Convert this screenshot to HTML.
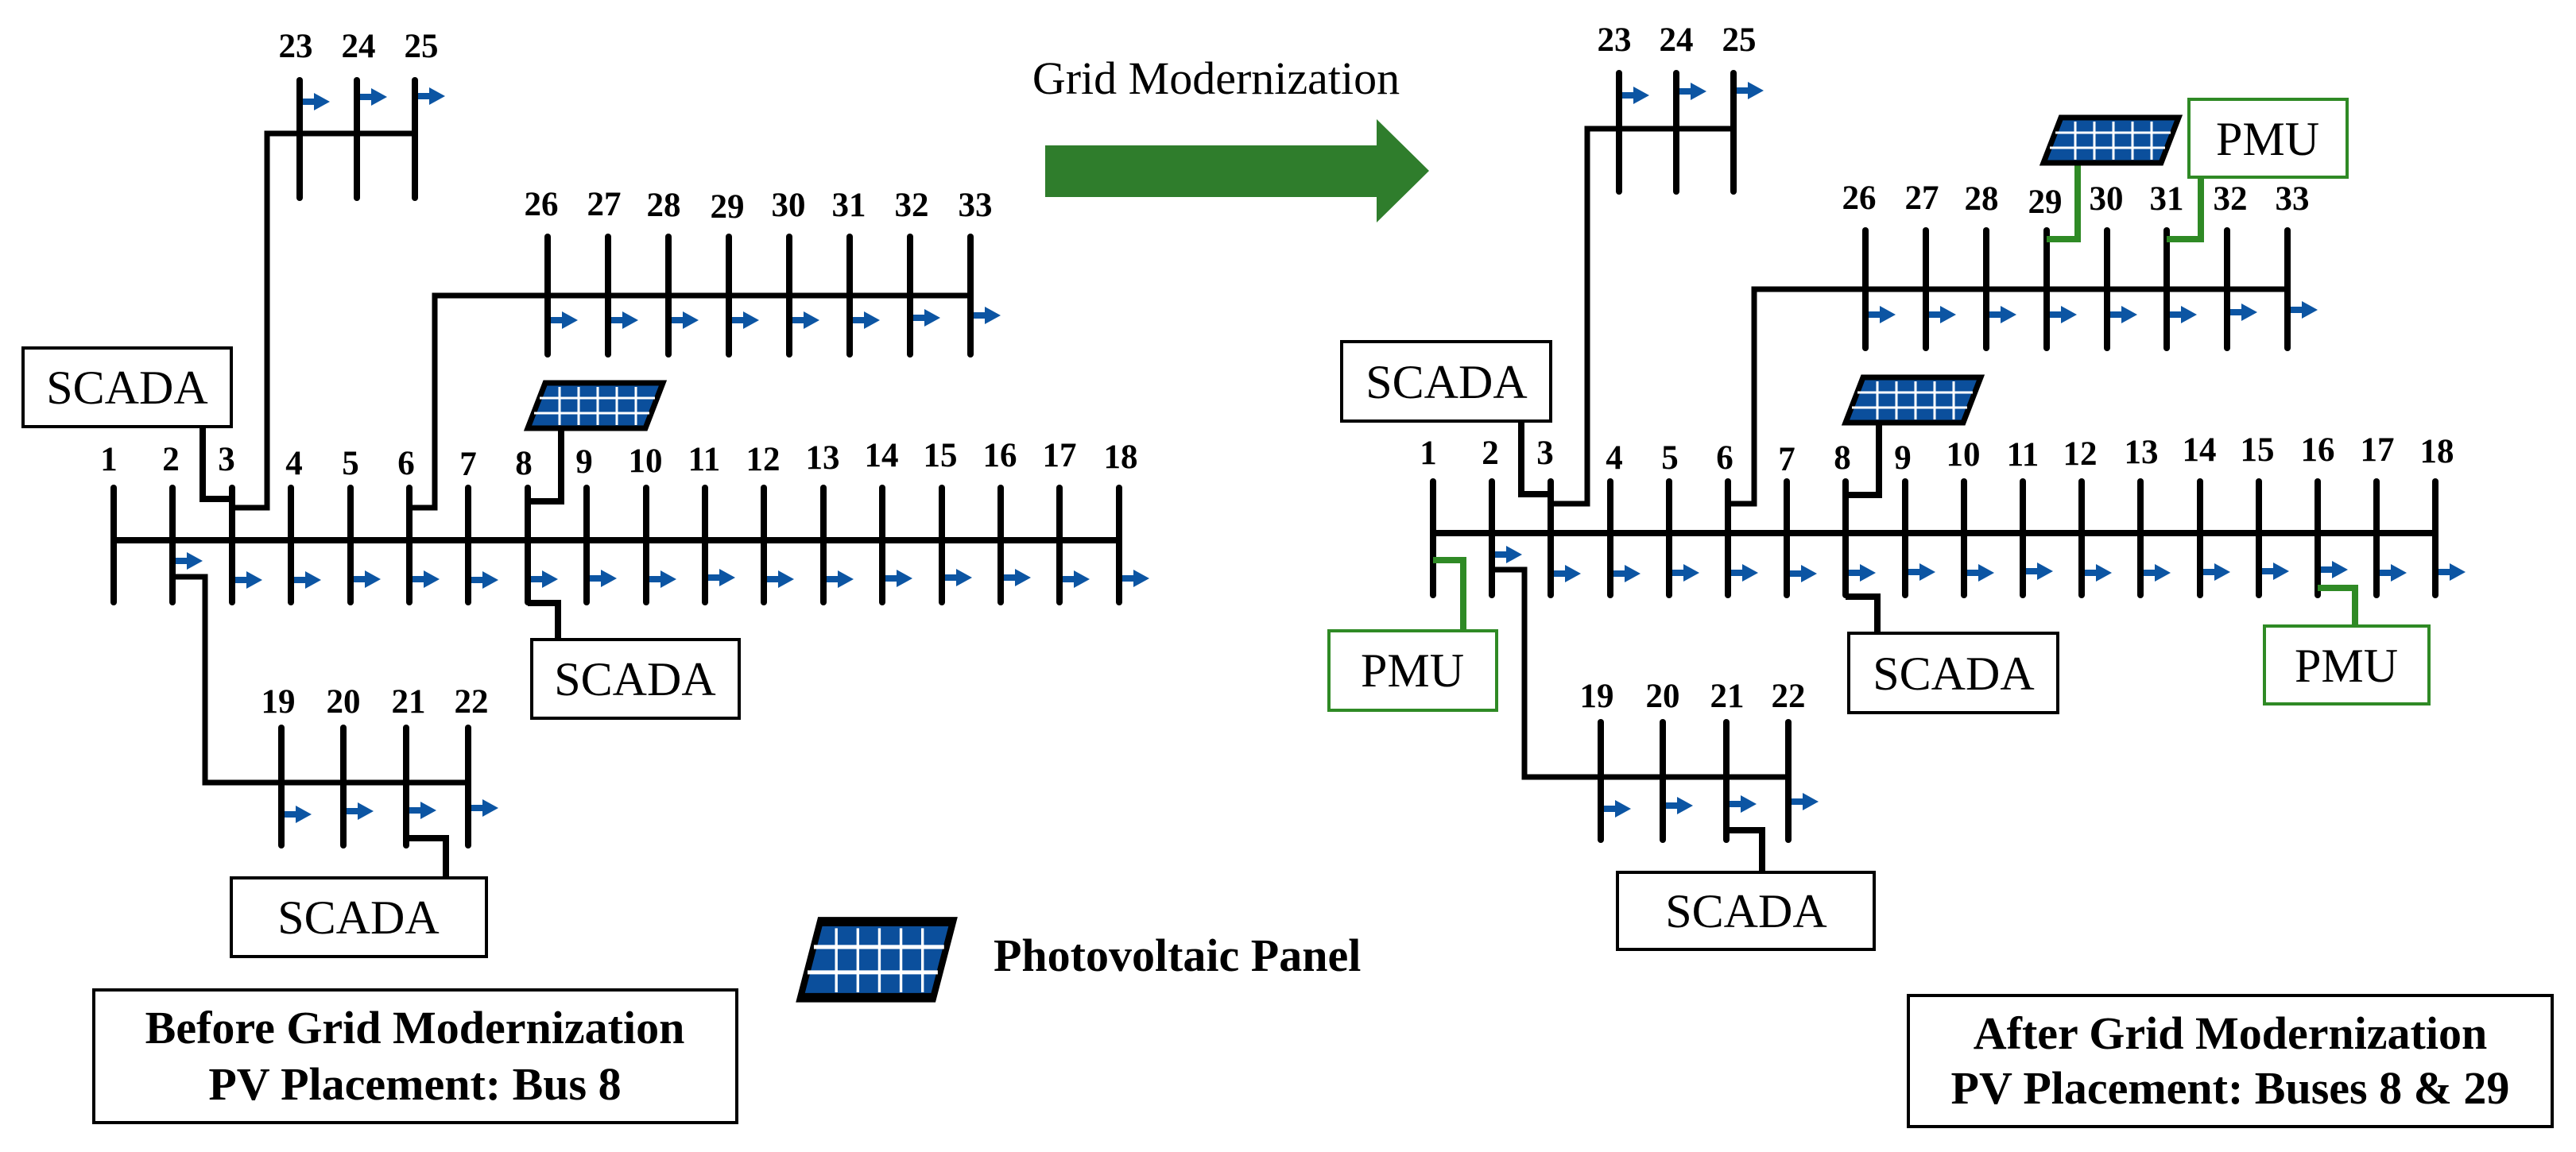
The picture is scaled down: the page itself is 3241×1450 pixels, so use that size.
<!DOCTYPE html>
<html><head><meta charset="utf-8"><style>
html,body{margin:0;padding:0;background:#fff}
svg{display:block}
.lb{font-family:"Liberation Serif",serif;font-weight:bold;font-size:43px;text-anchor:middle}
.bx{font-family:"Liberation Serif",serif;font-size:60px;text-anchor:middle}
.tt{font-family:"Liberation Serif",serif;font-weight:bold;font-size:58px;text-anchor:middle}
</style></head><body>
<svg width="3241" height="1450" viewBox="0 0 3241 1450" xmlns="http://www.w3.org/2000/svg">
<defs>
<g id="ar"><rect x="0" y="-4" width="20" height="8" fill="#0c55a3"/><polygon points="14,-11 34,0 14,11" fill="#0c55a3"/></g>
<g id="pv">
<polygon points="22,0 170,0 148,57 0,57" fill="#0b4f9c" stroke="#000" stroke-width="7" stroke-linejoin="miter"/>
<g stroke="#fff" stroke-width="3">
<line x1="15" y1="19" x2="160" y2="19"/><line x1="8" y1="38" x2="153" y2="38"/>
<line x1="40" y1="5" x2="40" y2="53"/><line x1="64" y1="5" x2="64" y2="53"/><line x1="88" y1="5" x2="88" y2="53"/><line x1="112" y1="5" x2="112" y2="53"/><line x1="136" y1="5" x2="136" y2="53"/>
</g></g>
</defs>

<!-- ================= LEFT ================= -->
<g stroke="#000" stroke-width="8" fill="none" stroke-linecap="round">
<line x1="143" y1="680" x2="1408" y2="680" stroke-linecap="butt"/>
<line x1="143" y1="614" x2="143" y2="758"/><line x1="217" y1="614" x2="217" y2="758"/><line x1="292" y1="614" x2="292" y2="758"/><line x1="366" y1="614" x2="366" y2="758"/><line x1="441" y1="614" x2="441" y2="758"/><line x1="515" y1="614" x2="515" y2="758"/><line x1="589" y1="614" x2="589" y2="758"/><line x1="664" y1="614" x2="664" y2="758"/><line x1="738" y1="614" x2="738" y2="758"/><line x1="813" y1="614" x2="813" y2="758"/><line x1="887" y1="614" x2="887" y2="758"/><line x1="961" y1="614" x2="961" y2="758"/><line x1="1036" y1="614" x2="1036" y2="758"/><line x1="1110" y1="614" x2="1110" y2="758"/><line x1="1185" y1="614" x2="1185" y2="758"/><line x1="1259" y1="614" x2="1259" y2="758"/><line x1="1333" y1="614" x2="1333" y2="758"/><line x1="1408" y1="614" x2="1408" y2="758"/>
<polyline points="217,726 258,726 258,985 589,985" stroke-linecap="butt" stroke-width="7"/>
<line x1="354" y1="916" x2="354" y2="1064"/><line x1="432" y1="916" x2="432" y2="1064"/><line x1="511" y1="916" x2="511" y2="1064"/><line x1="589" y1="916" x2="589" y2="1064"/>
<polyline points="511,1055 561,1055 561,1105" stroke-linecap="butt"/>
<polyline points="292,639 336,639 336,168 522,168" stroke-linecap="butt" stroke-width="7"/>
<line x1="377" y1="101" x2="377" y2="249"/><line x1="449" y1="101" x2="449" y2="249"/><line x1="522" y1="101" x2="522" y2="249"/>
<polyline points="255,537 255,628 292,628" stroke-linecap="butt"/>
<polyline points="515,639 547,639 547,372 1221,372" stroke-linecap="butt" stroke-width="7"/>
<line x1="689" y1="298" x2="689" y2="446"/><line x1="765" y1="298" x2="765" y2="446"/><line x1="841" y1="298" x2="841" y2="446"/><line x1="917" y1="298" x2="917" y2="446"/><line x1="993" y1="298" x2="993" y2="446"/><line x1="1069" y1="298" x2="1069" y2="446"/><line x1="1145" y1="298" x2="1145" y2="446"/><line x1="1221" y1="298" x2="1221" y2="446"/>
<polyline points="706,537 706,631 664,631" stroke-linecap="butt"/>
<polyline points="664,759 702,759 702,805" stroke-linecap="butt"/>
</g>
<g>
<use href="#ar" x="221" y="706"/><use href="#ar" x="296" y="730"/><use href="#ar" x="370" y="730"/><use href="#ar" x="445" y="729"/><use href="#ar" x="519" y="729"/><use href="#ar" x="593" y="730"/><use href="#ar" x="668" y="729"/><use href="#ar" x="742" y="728"/><use href="#ar" x="817" y="729"/><use href="#ar" x="891" y="727"/><use href="#ar" x="965" y="729"/><use href="#ar" x="1040" y="729"/><use href="#ar" x="1114" y="728"/><use href="#ar" x="1189" y="727"/><use href="#ar" x="1263" y="727"/><use href="#ar" x="1337" y="729"/><use href="#ar" x="1412" y="728"/>
<use href="#ar" x="358" y="1025"/><use href="#ar" x="436" y="1021"/><use href="#ar" x="515" y="1020"/><use href="#ar" x="593" y="1017"/>
<use href="#ar" x="381" y="128"/><use href="#ar" x="453" y="122"/><use href="#ar" x="526" y="121"/>
<use href="#ar" x="693" y="403"/><use href="#ar" x="769" y="403"/><use href="#ar" x="845" y="403"/><use href="#ar" x="921" y="403"/><use href="#ar" x="997" y="403"/><use href="#ar" x="1073" y="403"/><use href="#ar" x="1149" y="400"/><use href="#ar" x="1225" y="397"/>
</g>
<g class="lb">
<text x="137" y="592">1</text><text x="215" y="592">2</text><text x="285" y="592">3</text><text x="370" y="597">4</text><text x="441" y="597">5</text><text x="511" y="597">6</text><text x="589" y="598">7</text><text x="659" y="597">8</text><text x="735" y="595">9</text><text x="812" y="594">10</text><text x="886" y="592">11</text><text x="960" y="592">12</text><text x="1035" y="590">13</text><text x="1109" y="587">14</text><text x="1183" y="587">15</text><text x="1258" y="587">16</text><text x="1333" y="587">17</text><text x="1410" y="589">18</text>
<text x="350" y="897">19</text><text x="432" y="897">20</text><text x="514" y="897">21</text><text x="593" y="897">22</text>
<text x="372" y="72">23</text><text x="451" y="72">24</text><text x="530" y="72">25</text>
<text x="681" y="271">26</text><text x="760" y="271">27</text><text x="835" y="272">28</text><text x="915" y="274">29</text><text x="992" y="272">30</text><text x="1068" y="272">31</text><text x="1147" y="272">32</text><text x="1227" y="272">33</text>
</g>
<use href="#pv" transform="translate(664,482)"/>
<g fill="#fff" stroke="#000" stroke-width="4">
<rect x="29" y="438" width="262" height="99"/>
<rect x="669" y="805" width="261" height="99"/>
<rect x="291" y="1105" width="321" height="99"/>
<rect x="118" y="1246" width="809" height="167"/>
</g>
<g class="bx">
<text x="160" y="508">SCADA</text><text x="799" y="875">SCADA</text><text x="451" y="1175">SCADA</text>
</g>
<g class="tt"><text x="522" y="1313">Before Grid Modernization</text><text x="522" y="1384">PV Placement: Bus 8</text></g>

<use href="#pv" transform="translate(1007,1160) scale(1.13,1.68)"/>
<text x="1250" y="1222" font-family="Liberation Serif,serif" font-weight="bold" font-size="58">Photovoltaic Panel</text>
<text x="1530" y="118" class="bx" style="font-size:58px">Grid Modernization</text>
<polygon points="1315,183 1732,183 1732,150 1798,215 1732,280 1732,248 1315,248" fill="#2f7d2c"/>

<!-- ================= RIGHT ================= -->
<g stroke="#000" stroke-width="8" fill="none" stroke-linecap="round">
<line x1="1803" y1="671" x2="3064" y2="671" stroke-linecap="butt"/>
<line x1="1803" y1="606" x2="1803" y2="749"/><line x1="1877" y1="606" x2="1877" y2="749"/><line x1="1951" y1="606" x2="1951" y2="749"/><line x1="2026" y1="606" x2="2026" y2="749"/><line x1="2100" y1="606" x2="2100" y2="749"/><line x1="2174" y1="606" x2="2174" y2="749"/><line x1="2248" y1="606" x2="2248" y2="749"/><line x1="2322" y1="606" x2="2322" y2="749"/><line x1="2397" y1="606" x2="2397" y2="749"/><line x1="2471" y1="606" x2="2471" y2="749"/><line x1="2545" y1="606" x2="2545" y2="749"/><line x1="2619" y1="606" x2="2619" y2="749"/><line x1="2693" y1="606" x2="2693" y2="749"/><line x1="2768" y1="606" x2="2768" y2="749"/><line x1="2842" y1="606" x2="2842" y2="749"/><line x1="2916" y1="606" x2="2916" y2="749"/><line x1="2990" y1="606" x2="2990" y2="749"/><line x1="3064" y1="606" x2="3064" y2="749"/>
<polyline points="1877,717 1918,717 1918,978 2250,978" stroke-linecap="butt" stroke-width="7"/>
<line x1="2014" y1="909" x2="2014" y2="1057"/><line x1="2092" y1="909" x2="2092" y2="1057"/><line x1="2172" y1="909" x2="2172" y2="1057"/><line x1="2250" y1="909" x2="2250" y2="1057"/>
<polyline points="2172,1045 2217,1045 2217,1098" stroke-linecap="butt"/>
<polyline points="1951,634 1997,634 1997,162 2181,162" stroke-linecap="butt" stroke-width="7"/>
<line x1="2037" y1="92" x2="2037" y2="241"/><line x1="2109" y1="92" x2="2109" y2="241"/><line x1="2181" y1="92" x2="2181" y2="241"/>
<polyline points="1914,530 1914,622 1951,622" stroke-linecap="butt"/>
<polyline points="2174,634 2207,634 2207,364 2878,364" stroke-linecap="butt" stroke-width="7"/>
<line x1="2347" y1="290" x2="2347" y2="438"/><line x1="2423" y1="290" x2="2423" y2="438"/><line x1="2499" y1="290" x2="2499" y2="438"/><line x1="2575" y1="290" x2="2575" y2="438"/><line x1="2651" y1="290" x2="2651" y2="438"/><line x1="2726" y1="290" x2="2726" y2="438"/><line x1="2802" y1="290" x2="2802" y2="438"/><line x1="2878" y1="290" x2="2878" y2="438"/>
<polyline points="2364,532 2364,623 2322,623" stroke-linecap="butt"/>
<polyline points="2322,751 2362,751 2362,797" stroke-linecap="butt"/>
</g>
<g stroke="#2f8a25" stroke-width="8" fill="none">
<polyline points="1803,705 1841,705 1841,794"/>
<polyline points="2614,205 2614,301 2575,301"/>
<polyline points="2769,223 2769,301 2726,301"/>
<polyline points="2916,740 2963,740 2963,788"/>
</g>
<g>
<use href="#ar" x="1881" y="698"/><use href="#ar" x="1955" y="722"/><use href="#ar" x="2030" y="722"/><use href="#ar" x="2104" y="721"/><use href="#ar" x="2178" y="721"/><use href="#ar" x="2252" y="722"/><use href="#ar" x="2326" y="721"/><use href="#ar" x="2401" y="720"/><use href="#ar" x="2475" y="721"/><use href="#ar" x="2549" y="719"/><use href="#ar" x="2623" y="721"/><use href="#ar" x="2697" y="721"/><use href="#ar" x="2772" y="720"/><use href="#ar" x="2846" y="719"/><use href="#ar" x="2920" y="717"/><use href="#ar" x="2994" y="721"/><use href="#ar" x="3068" y="720"/>
<use href="#ar" x="2018" y="1018"/><use href="#ar" x="2096" y="1014"/><use href="#ar" x="2176" y="1012"/><use href="#ar" x="2254" y="1009"/>
<use href="#ar" x="2041" y="120"/><use href="#ar" x="2113" y="115"/><use href="#ar" x="2185" y="114"/>
<use href="#ar" x="2351" y="396"/><use href="#ar" x="2427" y="396"/><use href="#ar" x="2503" y="396"/><use href="#ar" x="2579" y="396"/><use href="#ar" x="2655" y="396"/><use href="#ar" x="2730" y="396"/><use href="#ar" x="2806" y="393"/><use href="#ar" x="2882" y="390"/>
</g>
<g class="lb">
<text x="1797" y="584">1</text><text x="1875" y="584">2</text><text x="1944" y="584">3</text><text x="2031" y="590">4</text><text x="2101" y="590">5</text><text x="2170" y="590">6</text><text x="2248" y="592">7</text><text x="2318" y="590">8</text><text x="2394" y="590">9</text><text x="2470" y="586">10</text><text x="2545" y="586">11</text><text x="2617" y="585">12</text><text x="2694" y="583">13</text><text x="2767" y="580">14</text><text x="2840" y="580">15</text><text x="2916" y="580">16</text><text x="2991" y="580">17</text><text x="3066" y="582">18</text>
<text x="2009" y="890">19</text><text x="2092" y="890">20</text><text x="2173" y="890">21</text><text x="2250" y="890">22</text>
<text x="2031" y="64">23</text><text x="2109" y="64">24</text><text x="2188" y="64">25</text>
<text x="2339" y="263">26</text><text x="2418" y="263">27</text><text x="2493" y="264">28</text><text x="2573" y="268">29</text><text x="2650" y="264">30</text><text x="2726" y="264">31</text><text x="2806" y="264">32</text><text x="2884" y="264">33</text>
</g>
<use href="#pv" transform="translate(2322,475)"/>
<use href="#pv" transform="translate(2571,148)"/>
<g fill="#fff" stroke="#000" stroke-width="4">
<rect x="1688" y="430" width="263" height="100"/>
<rect x="2326" y="797" width="263" height="100"/>
<rect x="2035" y="1098" width="323" height="97"/>
<rect x="2401" y="1253" width="810" height="165"/>
</g>
<g fill="#fff" stroke="#2f8a25" stroke-width="4">
<rect x="1672" y="794" width="211" height="100"/>
<rect x="2754" y="125" width="199" height="98"/>
<rect x="2849" y="788" width="207" height="98"/>
</g>
<g class="bx">
<text x="1820" y="501">SCADA</text><text x="2458" y="868">SCADA</text><text x="2197" y="1167">SCADA</text>
<text x="1777" y="864">PMU</text><text x="2853" y="195">PMU</text><text x="2952" y="858">PMU</text>
</g>
<g class="tt"><text x="2806" y="1320">After Grid Modernization</text><text x="2806" y="1389">PV Placement: Buses 8 &amp; 29</text></g>
</svg>
</body></html>
